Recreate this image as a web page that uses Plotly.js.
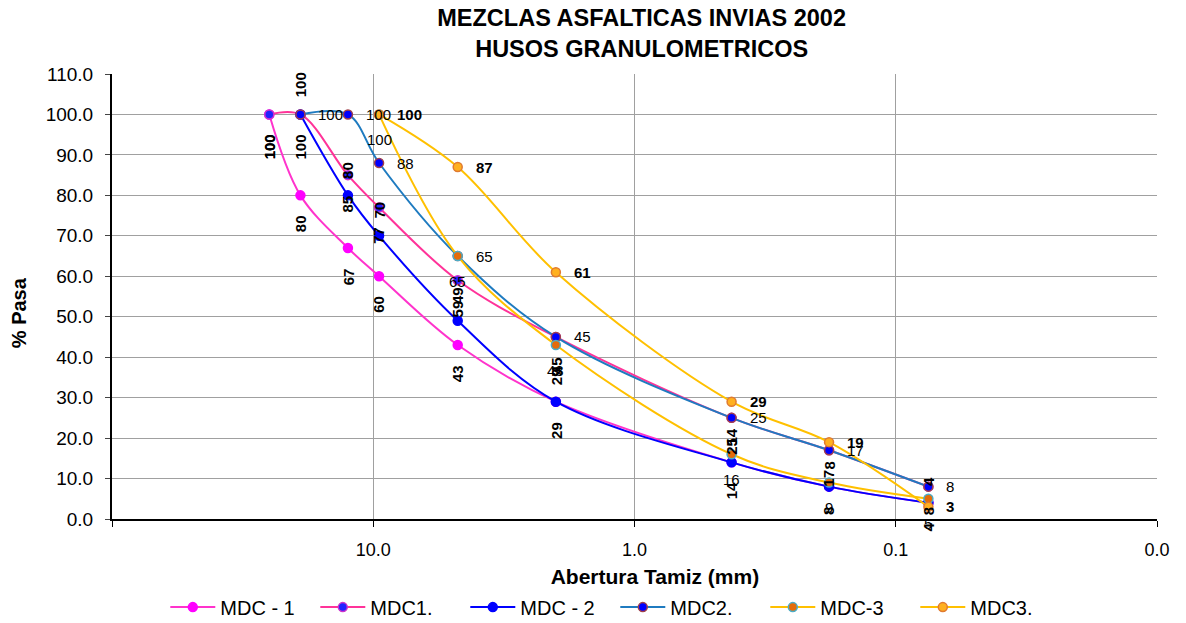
<!DOCTYPE html>
<html>
<head>
<meta charset="utf-8">
<script src="https://cdn.plot.ly/plotly-3.0.1.min.js"></script>
<style>html,body{margin:0;padding:0;background:#fff;}#chart{width:1186px;height:623px;}</style>
</head>
<body>
<div id="chart"></div>
<script>
// Sieve openings (mm)
var sizes1 = [25, 19, 12.5, 9.5, 4.75, 2.0, 0.425, 0.18, 0.075];
var sizes2 = [19, 12.5, 9.5, 4.75, 2.0, 0.425, 0.18, 0.075];
var sizes3 = [9.5, 4.75, 2.0, 0.425, 0.18, 0.075];
// % passing
var mdc1Low = [100, 80, 67, 60, 43, 29, 14, 8, 4];
var mdc1Up  = [100, 100, 85, 77, 59, 45, 25, 17, 8];
var mdc2Low = [100, 80, 70, 49, 29, 14, 8, 4];
var mdc2Up  = [100, 100, 88, 65, 45, 25, 17, 8];
var mdc3Low = [100, 65, 43, 16, 9, 5];
var mdc3Up  = [100, 87, 61, 29, 19, 3];
var seriesNames = ['MDC - 1', 'MDC1.', 'MDC - 2', 'MDC2.', 'MDC-3', 'MDC3.'];
var xTickVals = [100, 10, 1, 0.1, 0.01];
var xTickText = ['', '10.0', '1.0', '0.1', '0.0'];

var FONT = 'Liberation Sans, Arial, sans-serif';
var NB = '\u00a0';

function tr(name, xs, ys, lineColor, mFill, mLine) {
  return {
    type: 'scatter', mode: 'lines+markers', name: name, x: xs, y: ys,
    line: {color: lineColor, width: 2, shape: 'spline', smoothing: 1},
    marker: {color: mFill, size: 9, line: {color: mLine, width: 1.5}},
    cliponaxis: false
  };
}

var data = [
  tr(seriesNames[0], sizes1, mdc1Low, '#FF33CC', '#FF00FF', '#FF00FF'),
  tr(seriesNames[1], sizes1, mdc1Up, '#FF3399', '#2222FF', '#CC33CC'),
  tr(seriesNames[2], sizes2, mdc2Low, '#0000FF', '#0000FF', '#0000FF'),
  tr(seriesNames[3], sizes2, mdc2Up, '#1F7BC0', '#0000FF', '#A0404A'),
  tr(seriesNames[4], sizes3, mdc3Low, '#FFC000', '#E46C0A', '#4BACC6'),
  tr(seriesNames[5], sizes3, mdc3Up, '#FFC000', '#FFB020', '#E07A30')
];

var annotations = [];
function addLabels(xs, ys, style) {
  for (var i = 0; i < xs.length; i++) {
    var v = ys[i];
    var s = String(v);
    var n = s.length;
    var a = {
      x: Math.log10(xs[i]), y: v, xref: 'x', yref: 'y',
      text: style.bold ? '<b>' + s + '</b>' : s,
      showarrow: false,
      font: {family: FONT, size: 15, color: '#000'},
      xanchor: 'center', yanchor: 'middle'
    };
    if (style.pos === 'rotBelow') {
      a.textangle = -90; a.yshift = -(20 + n * 4.2);
    } else if (style.pos === 'rotAbove') {
      a.textangle = -90; a.yshift = (17 + n * 4.2);
    } else if (style.pos === 'right') {
      a.xanchor = 'left'; a.xshift = 16;
    } else if (style.pos === 'below') {
      a.yshift = -25;
    }
    annotations.push(a);
  }
}
addLabels(sizes1, mdc1Low, {bold: true, pos: 'rotBelow'});
addLabels(sizes1, mdc1Up, {bold: true, pos: 'rotBelow'});
addLabels(sizes2, mdc2Low, {bold: true, pos: 'rotAbove'});
addLabels(sizes2, mdc2Up, {bold: false, pos: 'right'});
addLabels(sizes3, mdc3Low, {bold: false, pos: 'below'});
addLabels(sizes3, mdc3Up, {bold: true, pos: 'right'});

var layout = {
  width: 1186, height: 623,
  margin: {l: 112, r: 29, t: 74, b: 104, autoexpand: false},
  paper_bgcolor: '#fff', plot_bgcolor: '#fff',
  font: {family: FONT, color: '#000'},
  title: {
    text: '<b>MEZCLAS ASFALTICAS INVIAS 2002</b><br><b>HUSOS GRANULOMETRICOS</b>',
    font: {family: FONT, size: 23.5, color: '#000'},
    x: 0.541, xanchor: 'center', y: 0.958, yanchor: 'top'
  },
  xaxis: {
    type: 'log', range: [2, -2], autorange: false,
    tickvals: xTickVals, ticktext: xTickText,
    tickfont: {family: FONT, size: 18, color: '#000'},
    ticks: 'outside', ticklen: 6, tickcolor: '#000', tickwidth: 1,
    ticklabelstandoff: 7,
    showgrid: true, gridcolor: '#A0A0A0', gridwidth: 1,
    showline: true, linecolor: '#000', linewidth: 2,
    zeroline: false,
    title: {text: '<b>' + NB.repeat(7) + 'Abertura Tamiz (mm)</b>', font: {family: FONT, size: 21, color: '#000'}, standoff: 11}
  },
  yaxis: {
    range: [0, 110], autorange: false, dtick: 10, tick0: 0,
    tickformat: '.1f',
    tickfont: {family: FONT, size: 19, color: '#000'},
    ticks: 'outside', ticklen: 5, tickcolor: '#444', tickwidth: 1,
    ticklabelstandoff: 8,
    showgrid: true, gridcolor: '#A0A0A0', gridwidth: 1,
    showline: true, linecolor: '#000', linewidth: 2,
    zeroline: false,
    title: {text: '<b>% Pasa' + NB.repeat(6) + '</b>', font: {family: FONT, size: 20, color: '#000'}, standoff: 14}
  },
  showlegend: true,
  legend: {
    orientation: 'h', x: 0.051, xanchor: 'left', y: -0.198, yanchor: 'middle',
    font: {family: FONT, size: 20, color: '#000'},
    itemwidth: 45, entrywidth: 90, entrywidthmode: 'pixels',
    bgcolor: 'rgba(0,0,0,0)', traceorder: 'normal'
  },
  annotations: annotations
};

Plotly.newPlot('chart', data, layout, {displayModeBar: false, staticPlot: true});
</script>
</body>
</html>
